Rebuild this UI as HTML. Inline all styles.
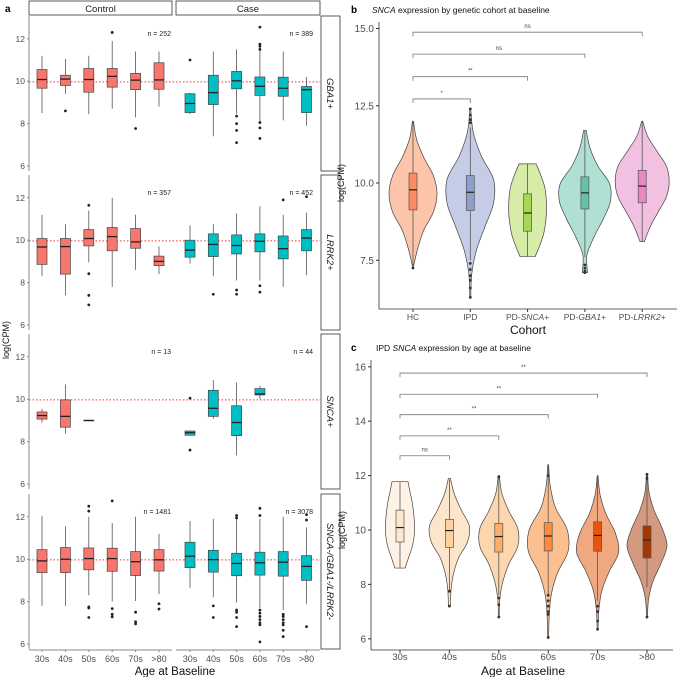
<!DOCTYPE html>
<html><head><meta charset="utf-8"><style>
html,body{margin:0;padding:0;background:#fff;}
svg{display:block;font-family:"Liberation Sans",sans-serif;}
</style></head><body>
<svg id="fig" width="677" height="677" viewBox="0 0 677 677" xmlns="http://www.w3.org/2000/svg"></svg>
<script>
// ---------- Panel a data ----------
const ageCats=['30s','40s','50s','60s','70s','>80'];
const rowNames=['GBA1+','LRRK2+','SNCA+','SNCA-/GBA1-/LRRK2-'];
const nCtrl=['n = 252','n = 357','n = 13','n = 1481'];
const nCase=['n = 389','n = 452','n = 44','n = 3078'];
const aTicks=[6,8,10,12];
const refLine=9.97;
const ctrlStats=[
 [[8.5,9.67,10.08,10.55,11.2],[9.4,9.8,10.1,10.28,11.05],[8.45,9.48,10.08,10.6,11.2],[8.7,9.72,10.23,10.6,11.9],[8.3,9.6,10.05,10.37,11.4],[8.8,9.62,10.06,10.87,11.4]],
 [[8.3,8.86,9.68,10.08,11.2],[7.4,8.4,9.7,10.08,10.75],[8.95,9.73,10.08,10.5,11.4],[7.8,9.5,10.17,10.6,12],[8.6,9.62,9.92,10.55,11.2],[8.4,8.8,9.0,9.25,9.7]],
 [[8.9,9.06,9.23,9.4,9.55],[8.37,8.68,9.19,9.97,10.7],[9.0,9.0,9.0,9.0,9.0],null,null,null],
 [[7.8,9.37,9.92,10.45,12.05],[7.8,9.37,10.0,10.55,11.55],[8.3,9.5,10.03,10.53,12],[8.0,9.43,10.03,10.52,11.7],[8.03,9.23,9.88,10.36,12],[8.35,9.44,9.97,10.45,11.2]]
];
const ctrlOut=[
 [[],[8.6],[],[12.3],[7.77],[]],
 [[],[],[11.65,8.42,7.4,6.95],[],[],[]],
 [[],[],[],[],[],[]],
 [[],[],[12.5,12.27,7.75,7.7,7.25],[12.75,7.67,7.4,7.28],[7.5,7.05,6.95],[7.9,7.65]]
];
const caseStats=[
 [[8.45,8.52,8.95,9.41,9.45],[7.4,8.9,9.46,10.28,11.4],[8.45,9.64,10.02,10.46,11.5],[8.1,9.33,9.76,10.2,11.6],[8.15,9.29,9.67,10.19,11.4],[7.9,8.52,9.6,9.75,10.2]],
 [[8.9,9.2,9.53,10.0,10.7],[8.3,9.23,9.8,10.3,10.75],[8.1,9.35,9.75,10.25,11.27],[8.1,9.45,9.95,10.3,11.6],[7.8,9.12,9.6,10.2,11.2],[8.35,9.5,10.1,10.5,11.3]],
 [[8.3,8.3,8.42,8.5,8.5],[9.08,9.19,9.57,10.42,10.9],[7.35,8.28,8.9,9.69,10.78],[10.0,10.2,10.25,10.5,10.62],null,null],
 [[8.65,9.6,10.14,10.8,11.8],[8.2,9.39,9.98,10.42,11.9],[7.95,9.22,9.8,10.28,11.9],[7.7,9.25,9.83,10.33,11.9],[7.6,9.2,9.86,10.36,12.0],[7.9,9.0,9.66,10.17,11.5]]
];
const caseOut=[
 [[11.0],[],[8.35,8.0,7.68,7.1],[12.55,11.75,11.65,11.5,8.05,7.8,7.3],[],[]],
 [[],[7.45],[7.65,7.45],[7.85,7.55],[11.9],[12.05]],
 [[10.05,7.6],[],[],[],[],[]],
 [[],[7.8,7.25],[12.06,11.95,7.6,7.5,7.25,6.82],[12.4,12.06,7.6,7.45,7.3,7.15,7.0,6.9,6.1],[7.4,7.3,7.15,7.0,6.9,6.65,6.35],[12.1,11.85,6.82]]
];
// ---------- Panel b data ----------
const bCats=['HC','IPD','PD-SNCA+','PD-GBA1+','PD-LRRK2+'];
const bTicks=[7.5,10.0,12.5,15.0];
const bStats=[[7.3,9.13,9.78,10.32,12.0],[7.5,9.11,9.7,10.24,11.8],[7.62,8.44,9.03,9.65,10.62],[7.6,9.16,9.68,10.2,11.7],[8.1,9.36,9.9,10.41,12.0]];
const bOut=[[7.25],[7.4,7.2,7.0,6.85,6.6,6.3,11.95,12.05,12.2,12.4],[],[7.35,7.25,7.15,7.1],[]];
const bRange=[[7.3,12],[6.3,12.4],[7.62,10.62],[7.1,11.7],[8.1,12]];
const bProf=[
 [0.02,0.2,0.45,0.85,1.0,0.85,0.45,0.15,0.02],
 [0.02,0.06,0.25,0.6,0.95,0.95,0.45,0.12,0.02],
 [0.4,0.65,0.85,0.95,1.0,0.98,0.9,0.7,0.45],
 [0.1,0.08,0.35,0.7,0.98,0.95,0.5,0.2,0.05],
 [0.08,0.3,0.6,0.9,1.0,0.9,0.55,0.2,0.02]];
const bHalf=[24,24.5,19,26,27];
const bBrY=[12.72,13.44,14.17,14.88];
const bBrTo=[1,2,3,4];
const bBrLab=['*','**','ns','ns'];
// ---------- Panel c data ----------
const cCats=['30s','40s','50s','60s','70s','>80'];
const cTicks=[6,8,10,12,14,16];
const cStats=[[8.6,9.56,10.09,10.73,11.75],[7.75,9.36,9.98,10.39,11.85],[7.6,9.19,9.76,10.24,11.9],[7.6,9.23,9.78,10.27,12.4],[7.4,9.22,9.8,10.3,12.0],[7.9,8.97,9.63,10.15,12.05]];
const cOut=[[],[7.75,7.2],[11.95,7.5,7.25,6.8],[12.0,7.6,7.4,7.2,7.0,6.9,6.05],[7.2,7.0,6.65,6.35],[11.9,12.05,6.8]];
const cRange=[[8.6,11.78],[7.2,11.9],[6.8,12],[6.05,12.4],[6.35,12],[6.8,12.05]];
const cProf=[
 [0.35,0.6,0.85,0.98,1.0,0.95,0.85,0.7,0.55],
 [0.05,0.08,0.2,0.45,0.9,1.0,0.6,0.25,0.05],
 [0.02,0.05,0.2,0.5,0.95,0.95,0.5,0.15,0.03],
 [0.02,0.05,0.15,0.45,0.95,0.9,0.35,0.1,0.02],
 [0.02,0.06,0.2,0.55,1.0,0.85,0.4,0.12,0.02],
 [0.02,0.08,0.3,0.7,1.0,0.75,0.35,0.1,0.03]];
const cHalf=[14.5,20,20,21,21,20];
const cBrY=[12.73,13.46,14.24,14.99,15.77];
const cBrTo=[1,2,3,4,5];
const cBrLab=['ns','**','**','**','**'];

const NS='http://www.w3.org/2000/svg';
const svg=document.getElementById('fig');
function mk(tag,attrs,parent,txt){const e=document.createElementNS(NS,tag);for(const k in attrs)e.setAttribute(k,attrs[k]);if(txt!==undefined)e.textContent=txt;(parent||svg).appendChild(e);return e;}

// ---------- Panel a ----------
const rowTop=[16,175,334,494];
const ctrlX=i=>42+i*23.4, caseX=i=>190+i*23.3;
function ya(r,v){return rowTop[r]+150-(v-6)*21.2;}
let t=mk('text',{x:5,y:12,'font-size':10,'font-weight':'bold'},svg,'a');

[['Control',29,172],['Case',176,320]].forEach(([lab,x0,x1])=>{
 const g=mk('g',{});
 mk('rect',{x:x0,y:1,width:x1-x0,height:14,fill:'#fff',stroke:'#333','stroke-width':0.8},g);
 mk('text',{x:(x0+x1)/2,y:12,'font-size':9.5,'text-anchor':'middle',fill:'#1a1a1a'},g,lab);
});
function drawBox(g,x,st,out,r,fill,w){
 if(!st)return;
 const [lo,q1,md,q3,hi]=st;
 const wl=mk('line',{x1:x,x2:x,y1:ya(r,lo),y2:ya(r,hi),stroke:'#555','stroke-width':0.8},g);
 
 const b=mk('rect',{x:x-w/2,y:ya(r,q3),width:w,height:Math.max(0.5,ya(r,q1)-ya(r,q3)),fill:fill,stroke:'#444','stroke-width':0.7},g);
 
 const m=mk('line',{x1:x-w/2,x2:x+w/2,y1:ya(r,md),y2:ya(r,md),stroke:'#222','stroke-width':1.3},g);
 
 out.forEach(v=>{const c=mk('circle',{cx:x,cy:ya(r,v),r:1.4,fill:'#222'},g);});
}
for(let r=0;r<4;r++){
 const g=mk('g',{});
 const bot=rowTop[r]+155;
 mk('line',{x1:29,x2:29,y1:rowTop[r],y2:bot,stroke:'#888','stroke-width':1},g);
 aTicks.forEach(v=>{
  mk('line',{x1:27,x2:29,y1:ya(r,v),y2:ya(r,v),stroke:'#888'},g);
  const tt=mk('text',{x:25,y:ya(r,v)+3,'font-size':8.5,'text-anchor':'end',fill:'#4d4d4d'},g,String(v));
  
 });
 const rl=mk('line',{x1:29,x2:320,y1:ya(r,refLine),y2:ya(r,refLine),stroke:'#ff2a2a','stroke-width':1,'stroke-dasharray':'1.5,2'},g);
 
 for(let i=0;i<6;i++){
  drawBox(g,ctrlX(i),ctrlStats[r][i],ctrlOut[r][i],r,'#f8766d',10);
  drawBox(g,caseX(i),caseStats[r][i],caseOut[r][i],r,'#00bfc4',10);
 }
 const n1=mk('text',{x:171,y:rowTop[r]+20,'font-size':7,'text-anchor':'end',fill:'#222'},g,nCtrl[r]);
 
 const n2=mk('text',{x:313,y:rowTop[r]+20,'font-size':7,'text-anchor':'end',fill:'#222'},g,nCase[r]);
 
 const s=mk('g',{});
 mk('rect',{x:321,y:rowTop[r],width:19,height:155,fill:'#fff',stroke:'#333','stroke-width':0.8},s);
 mk('text',{x:0,y:0,'font-size':9.5,'font-style':'italic','text-anchor':'middle',fill:'#1a1a1a',transform:`translate(327,${rowTop[r]+77.5}) rotate(90)`},s,rowNames[r]);
}
mk('line',{x1:29,x2:172,y1:650,y2:650,stroke:'#888'});
mk('line',{x1:176,x2:320,y1:650,y2:650,stroke:'#888'});
for(let i=0;i<6;i++){
 [ctrlX(i),caseX(i)].forEach(x=>{
  mk('line',{x1:x,x2:x,y1:650,y2:652,stroke:'#888'});
  const tl=mk('text',{x:x,y:662,'font-size':9,'text-anchor':'middle',fill:'#4d4d4d'},svg,ageCats[i]);
  
 });
}
t=mk('text',{x:175,y:675,'font-size':11.5,'text-anchor':'middle',fill:'#111'},svg,'Age at Baseline');

t=mk('text',{x:0,y:0,'font-size':9,'text-anchor':'middle',fill:'#111',transform:'translate(9,340) rotate(-90)'},svg,'log(CPM)');


// ---------- violin helper ----------
function smoothPath(pts){
 let d=`M${pts[0][0]},${pts[0][1]}`;
 for(let i=0;i<pts.length-1;i++){
  const p0=pts[Math.max(0,i-1)],p1=pts[i],p2=pts[i+1],p3=pts[Math.min(pts.length-1,i+2)];
  const c1=[p1[0]+(p2[0]-p0[0])/6,p1[1]+(p2[1]-p0[1])/6],c2=[p2[0]-(p3[0]-p1[0])/6,p2[1]-(p3[1]-p1[1])/6];
  d+=`C${c1[0]},${c1[1]} ${c2[0]},${c2[1]} ${p2[0]},${p2[1]}`;
 }
 return d;
}
function violin(g,cx,range,prof,half,yf,fill){
 const n=prof.length;const right=[],left=[];
 for(let k=0;k<n;k++){const v=range[0]+(range[1]-range[0])*k/(n-1);right.push([cx+prof[k]*half,yf(v)]);}
 for(let k=n-1;k>=0;k--){left.push([2*cx-right[k][0],right[k][1]]);}
 let d=smoothPath(right);
 d+=`L${left[0][0]},${left[0][1]}`+smoothPath(left).replace(/^M[^C]*/,'')+'Z';
 const p=mk('path',{d:d,fill:fill,stroke:'#444','stroke-width':0.7},g);
 
}
function vbox(g,cx,st,out,yf,fill,w){
 const [lo,q1,md,q3,hi]=st;
 mk('line',{x1:cx,x2:cx,y1:yf(lo),y2:yf(hi),stroke:'#555','stroke-width':0.8},g);
 const b=mk('rect',{x:cx-w/2,y:yf(q3),width:w,height:yf(q1)-yf(q3),fill:fill,stroke:'#555','stroke-width':0.7},g);
 
 mk('line',{x1:cx-w/2,x2:cx+w/2,y1:yf(md),y2:yf(md),stroke:'#222','stroke-width':1.2},g);
 out.forEach(v=>{const c=mk('circle',{cx:cx,cy:yf(v),r:1.4,fill:'#333'},g);});
}
function bracket(g,x1,x2,y,lab){
 mk('path',{d:`M${x1},${y+4}V${y}H${x2}V${y+4}`,fill:'none',stroke:'#777','stroke-width':0.8},g);
 const tx=mk('text',{x:(x1+x2)/2,y:y-4,'font-size':6,'text-anchor':'middle',fill:'#444'},g,lab);
 
}

// ---------- Panel b ----------
const yb=v=>183-(v-10)*30.9;
const xb=i=>413+i*57.3;
const bFill=['#fcc4a8','#c5cde6','#d8ecaa','#b0e0d3','#f2c0e0'];
const bBox=['#fc8d62','#8da0cb','#a6d854','#66c2a5','#e78ac3'];
const gb=mk('g',{});
t=mk('text',{x:351,y:13,'font-size':10,'font-weight':'bold'},gb,'b');
t=mk('text',{x:372,y:13,'font-size':8.5,fill:'#111'},gb);
mk('tspan',{'font-style':'italic'},t,'SNCA');mk('tspan',{},t,' expression by genetic cohort at baseline');
mk('line',{x1:379,x2:379,y1:22,y2:309,stroke:'#333','stroke-width':0.8},gb);
mk('line',{x1:379,x2:677,y1:309,y2:309,stroke:'#333','stroke-width':0.8},gb);
bTicks.forEach(v=>{mk('line',{x1:376,x2:379,y1:yb(v),y2:yb(v),stroke:'#333'},gb);
 const tt=mk('text',{x:374,y:yb(v)+3.5,'font-size':10,'text-anchor':'end',fill:'#4d4d4d'},gb,v.toFixed(1));});
bCats.forEach((c,i)=>{
 const g=mk('g',{});gb.appendChild(g);
 violin(g,xb(i),bRange[i],bProf[i],bHalf[i],yb,bFill[i]);
 vbox(g,xb(i),bStats[i],bOut[i],yb,bBox[i],8);
 mk('line',{x1:xb(i),x2:xb(i),y1:309,y2:312,stroke:'#333'},gb);
 const tl=mk('text',{x:xb(i),y:320,'font-size':8.5,'text-anchor':'middle',fill:'#4d4d4d'},gb);
 
 const m=c.match(/^(PD-)(.*)(\+)$/);
 if(m){mk('tspan',{},tl,m[1]);mk('tspan',{'font-style':'italic'},tl,m[2]);mk('tspan',{},tl,m[3]);}else tl.textContent=c;
});
bBrY.forEach((v,k)=>bracket(gb,xb(0),xb(bBrTo[k]),yb(v),bBrLab[k]));
t=mk('text',{x:528,y:334,'font-size':12,'text-anchor':'middle',fill:'#111'},gb,'Cohort');
t=mk('text',{x:0,y:0,'font-size':9,'text-anchor':'middle',fill:'#111',transform:'translate(344,183) rotate(-90)'},gb,'log(CPM)');

// ---------- Panel c ----------
const yc=v=>530-(v-10)*27.2;
const xc=i=>400+i*49.4;
const cFill=['#fef2e6','#fde5cc','#fdd6ae','#fcc090','#f0a880','#d49a80'];
const cBox=['#fee6ce','#fdd0a2','#fdae6b','#fd8d3c','#e6550d','#a63603'];
const gc=mk('g',{});
t=mk('text',{x:351,y:351,'font-size':10,'font-weight':'bold'},gc,'c');
t=mk('text',{x:376,y:351,'font-size':8.5,fill:'#111'},gc);
mk('tspan',{},t,'IPD ');mk('tspan',{'font-style':'italic'},t,'SNCA');mk('tspan',{},t,' expression by age at baseline');
mk('line',{x1:371,x2:371,y1:360,y2:650,stroke:'#333','stroke-width':0.8},gc);
mk('line',{x1:371,x2:673,y1:650,y2:650,stroke:'#333','stroke-width':0.8},gc);
cTicks.forEach(v=>{mk('line',{x1:368,x2:371,y1:yc(v),y2:yc(v),stroke:'#333'},gc);
 const tt=mk('text',{x:366,y:yc(v)+3.5,'font-size':10,'text-anchor':'end',fill:'#4d4d4d'},gc,String(v));});
cCats.forEach((c,i)=>{
 const g=mk('g',{});gc.appendChild(g);
 violin(g,xc(i),cRange[i],cProf[i],cHalf[i],yc,cFill[i]);
 vbox(g,xc(i),cStats[i],cOut[i],yc,cBox[i],8);
 mk('line',{x1:xc(i),x2:xc(i),y1:650,y2:653,stroke:'#333'},gc);
 const tl=mk('text',{x:xc(i),y:660,'font-size':9.5,'text-anchor':'middle',fill:'#4d4d4d'},gc,c);
 
});
cBrY.forEach((v,k)=>bracket(gc,xc(0),xc(cBrTo[k]),yc(v),cBrLab[k]));
t=mk('text',{x:523,y:675,'font-size':12,'text-anchor':'middle',fill:'#111'},gc,'Age at Baseline');
t=mk('text',{x:0,y:0,'font-size':9,'text-anchor':'middle',fill:'#111',transform:'translate(345,530) rotate(-90)'},gc,'log(CPM)');
</script>
</body></html>
